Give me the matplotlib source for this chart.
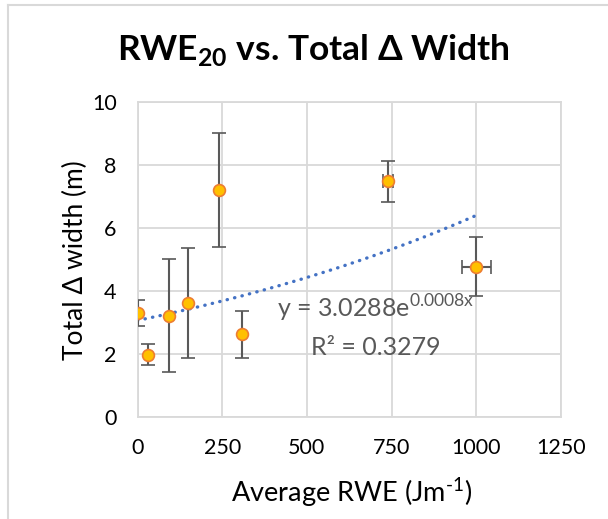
import numpy as np
import matplotlib.pyplot as plt
from matplotlib.lines import Line2D

# data
rwe = [0, 31, 92, 149, 241, 309, 740, 1000]
width = [3.30, 1.98, 3.22, 3.62, 7.21, 2.62, 7.48, 4.77]
width_err = [0.41, 0.33, 1.80, 1.75, 1.82, 0.76, 0.66, 0.93]
rwe_err = [0, 0, 0, 0, 0, 0, 15, 42]

x_ticks = [0, 250, 500, 750, 1000, 1250]
y_ticks = [0, 2, 4, 6, 8, 10]

plt.rcParams['font.family'] = ['Lato', 'DejaVu Sans']
plt.rcParams['mathtext.fontset'] = 'custom'
plt.rcParams['mathtext.rm'] = 'Lato'
plt.rcParams['mathtext.bf'] = 'Lato:bold'

W, H = 608, 519
fig = plt.figure(figsize=(W / 100, H / 100), dpi=100)
ax = fig.add_axes([137.5 / W, 1 - 417 / H, (561 - 137.5) / W, (417 - 102) / H])

grid_col = '#D9D9D9'
ax.set_xlim(0, 1250)
ax.set_ylim(0, 10)
ax.set_xticks(x_ticks)
ax.set_yticks(y_ticks)
ax.grid(True, color=grid_col, lw=1.3)
ax.set_axisbelow(True)
for s in ax.spines.values():
    s.set_color(grid_col)
    s.set_linewidth(1.3)
ax.tick_params(length=0, labelsize=15.5, pad=15, colors='black')

# exponential trendline fitted in log space
b, ln_a = np.polyfit(rwe, np.log(width), 1)
xs = np.linspace(0, 1000, 200)
ax.plot(xs, np.exp(ln_a) * np.exp(b * xs), color='#4472C4', lw=2.4,
        linestyle=(0, (0.1, 2.2)), dash_capstyle='round', zorder=2)

ax.errorbar(rwe, width, yerr=width_err, xerr=rwe_err, fmt='o', ms=8.5,
            mfc='#FFC000', mec='#ED7D31', mew=1.2, ecolor='#595959',
            elinewidth=1.5, capsize=5, capthick=1.5, zorder=3)

ax.text(704, 3.14, r'y = 3.0288e$^{\mathrm{0.0008x}}$', ha='center', va='baseline',
        fontsize=18, color='#595959')
ax.text(704, 1.97, 'R² = 0.3279', ha='center', va='baseline',
        fontsize=18, color='#595959')

fig.text(352 / W, 1 - 502 / H, r'Average RWE (Jm$^{\text{-1}}$)', ha='center', va='baseline',
         fontsize=19.5)
fig.text(83 / W, 1 - 260 / H, 'Total Δ width (m)', ha='center', va='baseline',
         rotation=90, rotation_mode='anchor', fontsize=19)
fig.text(313 / W, 1 - 60 / H, r'RWE$_{\mathbf{20}}$ vs. Total Δ Width', ha='center',
         va='baseline', fontsize=25.5, fontweight='bold')

# chart area border (only left and top visible)
fig.add_artist(Line2D([8 / W, 8 / W], [0, 1 - 5 / H], color=grid_col, lw=1.5))
fig.add_artist(Line2D([8 / W, 1], [1 - 5 / H, 1 - 5 / H], color=grid_col, lw=1.5))

fig.savefig('out.png', dpi=100)
